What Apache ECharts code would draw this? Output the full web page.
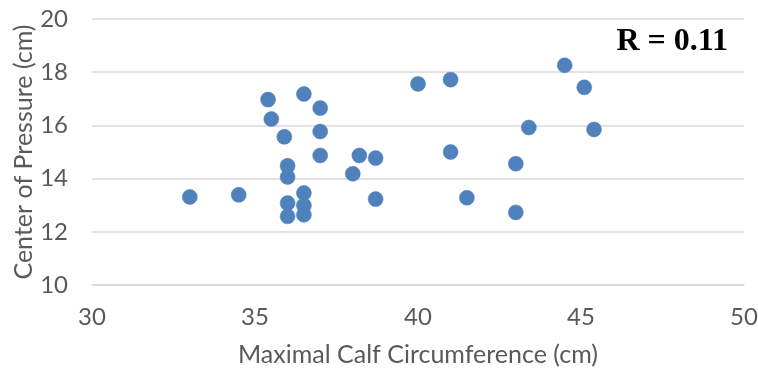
<!DOCTYPE html>
<html><head><meta charset="utf-8">
<script src="https://cdn.jsdelivr.net/npm/echarts@6/dist/echarts.min.js"></script>
<style>html,body{margin:0;padding:0;background:#fff}#c{width:758px;height:370px}</style>
</head><body><div id="c"></div>
<script>
const calfCircumference = [33.0,34.5,35.4,35.5,35.9,36.0,36.0,36.0,36.0,36.5,36.5,36.5,36.5,37.0,37.0,37.0,38.0,38.2,38.7,38.7,40.0,41.0,41.0,41.5,43.0,43.0,43.4,44.5,45.1,45.4];
const centerOfPressure = [13.31,13.39,16.97,16.24,15.57,14.48,14.06,13.08,12.58,17.18,13.46,12.99,12.64,16.65,15.77,14.87,14.18,14.87,14.77,13.23,17.56,17.72,15.0,13.28,14.56,12.73,15.92,18.26,17.43,15.85];
const xTicks = [30,35,40,45,50];
const yTicks = [10,12,14,16,18,20];
const annotation = 'R = 0.11';

const chart = echarts.init(document.getElementById('c'));
const font = 'Lato, Calibri, sans-serif';
chart.setOption({
  animation:false,
  grid:{left:92,right:14,top:19,bottom:85,containLabel:false,outerBoundsMode:'none'},
  xAxis:{type:'value',min:xTicks[0],max:xTicks[xTicks.length-1],interval:5,
    name:'Maximal Calf Circumference (cm)',nameLocation:'middle',nameGap:57,nameMoveOverlap:false,
    nameTextStyle:{fontFamily:font,fontSize:25,color:'#595959'},
    axisLine:{show:true,lineStyle:{color:'#d9d9d9',width:1.5}},axisTick:{show:false},
    axisLabel:{fontFamily:font,fontSize:24,color:'#595959',margin:20},
    splitLine:{show:false}},
  yAxis:{type:'value',min:yTicks[0],max:yTicks[yTicks.length-1],interval:2,
    name:'Center of Pressure (cm)',nameLocation:'middle',nameGap:56,nameMoveOverlap:false,
    nameTextStyle:{fontFamily:font,fontSize:25,color:'#595959'},
    axisLine:{show:false},axisTick:{show:false},
    axisLabel:{fontFamily:font,fontSize:24,color:'#595959',margin:24},
    splitLine:{show:true,lineStyle:{color:'#d9d9d9',width:1.5}}},
  series:[{type:'scatter',symbolSize:15,
    itemStyle:{color:'#4f81bd',borderColor:'#4a7ebb',borderWidth:0.5,opacity:1},
    data:calfCircumference.map((x,i)=>[x,centerOfPressure[i]])}],
  graphic:[{type:'text',x:728,y:42,
    style:{text:annotation,font:'bold 32px "Liberation Serif", "Times New Roman", serif',fill:'#000',textAlign:'right',textVerticalAlign:'middle'}}]
});
</script></body></html>
